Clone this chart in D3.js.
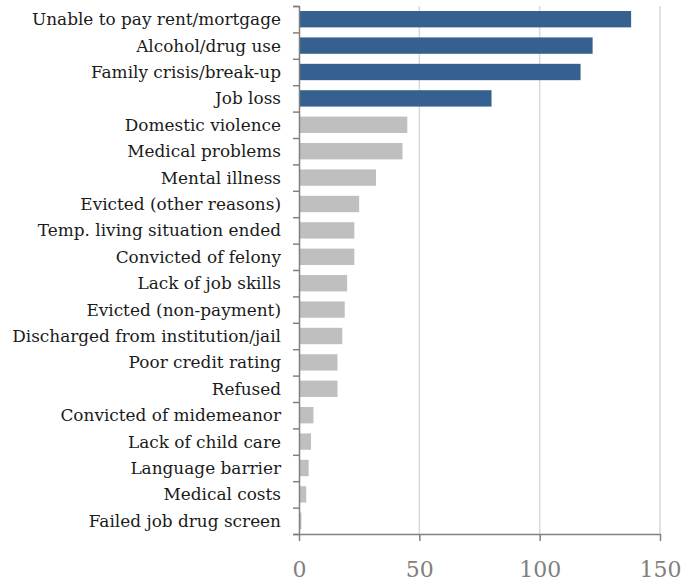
<!DOCTYPE html>
<html><head><meta charset="utf-8">
<script src="https://cdn.jsdelivr.net/npm/d3@7"></script>
<style>body{margin:0;background:#fff}</style>
</head><body>
<script>
const categories = ["Unable to pay rent/mortgage","Alcohol/drug use","Family crisis/break-up","Job loss","Domestic violence","Medical problems","Mental illness","Evicted (other reasons)","Temp. living situation ended","Convicted of felony","Lack of job skills","Evicted (non-payment)","Discharged from institution/jail","Poor credit rating","Refused","Convicted of midemeanor","Lack of child care","Language barrier","Medical costs","Failed job drug screen"];
const values = [138,122,117,80,45,43,32,25,23,23,20,19,18,16,16,6,5,4,3,1];
const highlighted = [true,true,true,true,false,false,false,false,false,false,false,false,false,false,false,false,false,false,false,false];
const xTicks = [0,50,100,150];

const W=682,H=584;
const m={left:299,right:22,top:6,bottom:50};
const svg=d3.select("body").append("svg").attr("width",W).attr("height",H);
const x=d3.scaleLinear().domain([0,150]).range([m.left,W-m.right]);
const y=d3.scaleBand().domain(categories).range([m.top,H-m.bottom]).paddingInner(0.38).paddingOuter(0.19);
const font="'DejaVu Serif', serif";

svg.append("g").selectAll("line").data(xTicks.slice(1)).join("line")
 .attr("x1",d=>x(d)).attr("x2",d=>x(d)).attr("y1",m.top).attr("y2",H-m.bottom)
 .attr("stroke","#d9d9d9").attr("stroke-width",1.5);

svg.append("g").selectAll("rect").data(categories).join("rect")
 .attr("x",x(0)).attr("y",d=>y(d)).attr("height",y.bandwidth())
 .attr("width",(d,i)=>x(values[i])-x(0))
 .attr("fill",(d,i)=>highlighted[i]?"#36608f":"#bfbfbf");

const ya=svg.append("g").attr("transform",`translate(${m.left},0)`)
 .call(d3.axisLeft(d3.scaleLinear().domain([0,categories.length]).range([m.top,H-m.bottom])).tickValues(d3.range(0,21)).tickSize(6).tickFormat(""));
ya.selectAll("path,line").attr("stroke","#808080").attr("stroke-width",1.5);

svg.append("g").selectAll("text").data(categories).join("text")
 .attr("x",m.left-18).attr("y",d=>y(d)+y.bandwidth()/2).attr("dy","0.35em")
 .attr("text-anchor","end").attr("font-family",font).attr("font-size",16.9).attr("fill","#1a1a1a")
 .text(d=>d);

const xa=svg.append("g").attr("transform",`translate(0,${H-m.bottom})`)
 .call(d3.axisBottom(x).tickValues(xTicks).tickSize(7).tickSizeOuter(0).tickPadding(20));
xa.selectAll("path,line").attr("stroke","#808080").attr("stroke-width",1.5);
xa.selectAll("text").attr("font-family",font).attr("font-size",22).attr("fill","#808080");
</script>
</body></html>
